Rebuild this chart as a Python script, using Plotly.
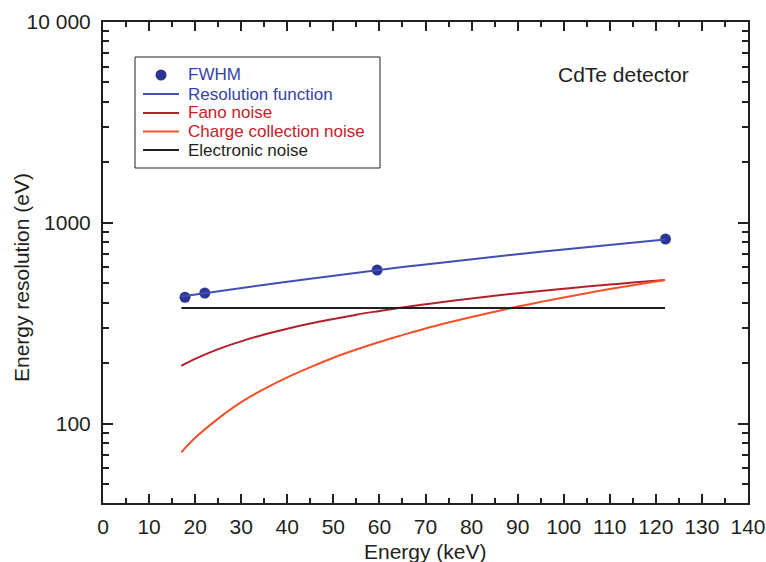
import plotly.graph_objects as go

# ---- data ----
energy_curve = [17, 20, 25, 30, 35, 40, 45, 50, 55, 60, 65, 70, 75, 80, 85, 90, 95, 100, 105, 110, 115, 122]
resolution_fn = [430, 440, 457, 474, 492, 509, 527, 546, 564, 583, 602, 621, 640, 659, 678, 698, 718, 737, 757, 777, 797, 825]
fano_noise = [194, 210, 235, 257, 278, 297, 315, 332, 349, 364, 379, 393, 407, 420, 433, 446, 458, 470, 482, 493, 504, 519]
charge_noise = [72, 85, 106, 128, 149, 170, 191, 213, 234, 255, 276, 298, 319, 340, 361, 383, 404, 425, 446, 468, 489, 519]
electronic_noise = [377, 377, 377, 377, 377, 377, 377, 377, 377, 377, 377, 377, 377, 377, 377, 377, 377, 377, 377, 377, 377, 377]

fwhm_energy = [17.8, 22.1, 59.5, 122.1]
fwhm_value = [426, 447, 582, 830]

series_names = ["FWHM", "Resolution function", "Fano noise",
                "Charge collection noise", "Electronic noise"]

y_tickvals = [100, 1000, 10000]
y_ticktext = ["100", "1000", "10 000"]
y_minor = [40, 50, 60, 70, 80, 90, 200, 300, 400, 500, 600, 700, 800, 900,
           2000, 3000, 4000, 5000, 6000, 7000, 8000, 9000]

BLUE_M = "#2b3594"
BLUE_L = "#3f4fb4"
DARK_RED = "#b3202a"
ORANGE = "#f2512a"
BLACK = "#231f20"
RED_TXT = "#c8202a"
BLUE_TXT = "#3443a8"

FONT = "Liberation Sans, Arial, sans-serif"

# plot area in pixels (for placing the hand-made legend)
L, R, T, B = 103, 18, 22, 59
W, H = 766, 562
PW, PH = W - L - R, H - T - B


def px(x):
    return (x - L) / PW


def py(y):
    return (H - B - y) / PH


fig = go.Figure()
fig.add_trace(go.Scatter(x=fwhm_energy, y=fwhm_value, mode="markers",
                         marker=dict(color=BLUE_M, size=11), name=series_names[0]))
fig.add_trace(go.Scatter(x=energy_curve, y=resolution_fn, mode="lines",
                         line=dict(color=BLUE_L, width=2), name=series_names[1]))
fig.add_trace(go.Scatter(x=energy_curve, y=fano_noise, mode="lines",
                         line=dict(color=DARK_RED, width=2, shape="spline"),
                         name=series_names[2]))
fig.add_trace(go.Scatter(x=energy_curve, y=charge_noise, mode="lines",
                         line=dict(color=ORANGE, width=2, shape="spline"),
                         name=series_names[3]))
fig.add_trace(go.Scatter(x=energy_curve, y=electronic_noise, mode="lines",
                         line=dict(color=BLACK, width=2), name=series_names[4]))

# ---- hand-made legend (box, symbols, coloured texts) ----
shapes = [dict(type="rect", xref="paper", yref="paper",
               x0=px(135), x1=px(380), y0=py(168), y1=py(57),
               line=dict(color=BLACK, width=1), fillcolor="white", layer="above")]
shapes.append(dict(type="circle", xref="paper", yref="paper",
                   x0=px(161 - 5.5), x1=px(161 + 5.5), y0=py(75 + 5.5), y1=py(75 - 5.5),
                   line=dict(color=BLUE_M, width=0), fillcolor=BLUE_M, layer="above"))
leg_rows = [75, 94, 113, 131.5, 150]
line_cols = [None, BLUE_L, DARK_RED, ORANGE, BLACK]
text_cols = [BLUE_TXT, BLUE_TXT, RED_TXT, RED_TXT, BLACK]
annotations = []
for i, name in enumerate(series_names):
    yy = leg_rows[i]
    if line_cols[i]:
        shapes.append(dict(type="line", xref="paper", yref="paper",
                           x0=px(143), x1=px(179), y0=py(yy), y1=py(yy),
                           line=dict(color=line_cols[i], width=2), layer="above"))
    annotations.append(dict(text=name, xref="paper", yref="paper", x=px(186), y=py(yy),
                            xanchor="left", yanchor="middle", showarrow=False,
                            font=dict(size=17, color=text_cols[i])))

annotations += [
    dict(text="CdTe detector", xref="paper", yref="paper", x=px(623), y=py(74),
         xanchor="center", yanchor="middle", showarrow=False,
         font=dict(size=21, color=BLACK)),
    dict(text="Energy (keV)", xref="paper", yref="paper", x=0.5, y=py(551),
         xanchor="center", yanchor="middle", showarrow=False,
         font=dict(size=21, color=BLACK)),
    dict(text="Energy resolution (eV)", xref="paper", yref="paper", x=px(21), y=py(278),
         xanchor="center", yanchor="middle", showarrow=False, textangle=-90,
         font=dict(size=21, color=BLACK)),
]

fig.update_layout(
    width=W, height=H,
    margin=dict(l=L, r=R, t=T, b=B, autoexpand=False),
    paper_bgcolor="white", plot_bgcolor="white",
    font=dict(family=FONT, size=21, color=BLACK),
    showlegend=False,
    xaxis=dict(range=[0, 140], tickmode="array", tickvals=list(range(0, 141, 10)),
               ticks="inside", ticklen=9, tickwidth=2, tickcolor=BLACK,
               showline=True, linecolor=BLACK, linewidth=2, mirror="allticks",
               showgrid=False, zeroline=False, ticklabelstandoff=4, automargin=False,
               tickfont=dict(size=21),
               minor=dict(tickmode="array", tickvals=list(range(5, 140, 10)),
                          ticks="inside", ticklen=5, tickwidth=2, tickcolor=BLACK,
                          showgrid=False)),
    yaxis=dict(type="log", range=[1.605, 4.0], tickmode="array",
               tickvals=y_tickvals, ticktext=y_ticktext,
               ticks="inside", ticklen=10, tickwidth=2, tickcolor=BLACK,
               showline=True, linecolor=BLACK, linewidth=2, mirror="allticks",
               showgrid=False, zeroline=False, ticklabelstandoff=6, automargin=False,
               tickfont=dict(size=21),
               minor=dict(tickmode="array", tickvals=y_minor,
                          ticks="inside", ticklen=6, tickwidth=2, tickcolor=BLACK,
                          showgrid=False)),
    shapes=shapes,
    annotations=annotations,
)

fig.write_html("out.html")
